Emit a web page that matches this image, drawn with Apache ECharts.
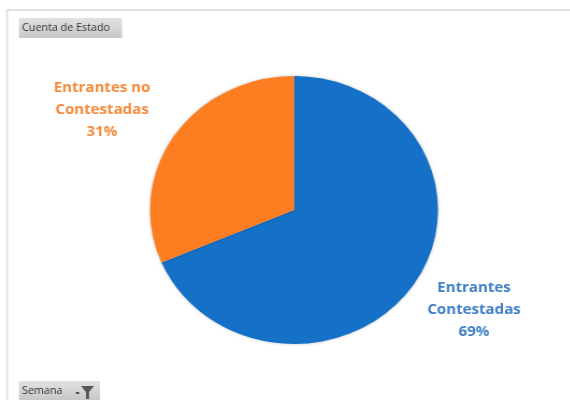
<!DOCTYPE html>
<html><head><meta charset="utf-8">
<style>html,body{margin:0;padding:0;background:#fff;overflow:hidden}
#c{position:absolute;left:0;top:0;width:530.4px;height:400px;transform-origin:0 0;transform:scaleX(1.0746)}</style>
<script src="https://cdn.jsdelivr.net/npm/echarts@6/dist/echarts.min.js"></script>
</head><body><div id="c"></div>
<script>
const categories = ['Entrantes Contestadas', 'Entrantes no Contestadas'];
const values = [68.6, 31.4];
const colors = ['#1570c8', '#fd7e21'];
const labelColors = ['#3f7fc4', '#f58a3c'];
const fieldTitle = 'Cuenta de Estado';
const filterTitle = 'Semana';
const sx = 1.0746;
const X = v => v / sx;
const chart = echarts.init(document.getElementById('c'), null, {renderer: 'canvas'});
const btnFill = new echarts.graphic.LinearGradient(0,0,0,1,[{offset:0,color:'#e2e2e2'},{offset:1,color:'#c8c8c8'}]);
chart.setOption({
  animation: false,
  graphic: [
    {type:'rect', silent:true, shape:{x:X(7),y:10,width:X(580),height:420}, style:{fill:'#fff',stroke:'#e2e2e2',lineWidth:2}},
    {type:'rect', silent:true, shape:{x:X(19),y:18,width:X(103),height:20}, style:{fill:btnFill}},
    {type:'text', silent:true, x:X(22), y:28, style:{text:fieldTitle,font:'10px "Open Sans"',fill:'#333',verticalAlign:'middle'}},
    {type:'rect', silent:true, shape:{x:X(19),y:381,width:X(81),height:19}, style:{fill:btnFill}},
    {type:'text', silent:true, x:X(22), y:391, style:{text:filterTitle,font:'10px "Open Sans"',fill:'#333',verticalAlign:'middle'}},
    {type:'polygon', silent:true, shape:{points:[[X(81),386],[X(94),386],[X(89),392],[X(89),399],[X(86),399],[X(86),392]]}, style:{fill:'#555'}},
    {type:'rect', silent:true, shape:{x:X(76),y:392,width:X(3),height:2}, style:{fill:'#444'}}
  ],
  series: [{
    type: 'pie',
    radius: [0, 134],
    center: [X(294), 210],
    startAngle: 90,
    clockwise: true,
    silent: true,
    data: categories.map((name, i) => ({
      name, value: values[i],
      itemStyle: {color: colors[i], shadowBlur: 3, shadowColor: 'rgba(0,0,0,0.25)'},
      label: {color: labelColors[i]}
    })),
    label: {
      show: true, position: 'outside', align: 'center',
      fontWeight: 'bold', fontFamily: 'Open Sans', fontSize: 14, lineHeight: 22,
      formatter: p => p.name.replace(/ (?=\S+$)/, '\n') + '\n' + Math.round(p.value) + '%'
    },
    labelLine: {show: false},
    labelLayout: p => p.dataIndex === 0
      ? {x: X(474), y: 310, align: 'center', verticalAlign: 'middle'}
      : {x: X(102), y: 110, align: 'center', verticalAlign: 'middle'}
  }]
});
</script></body></html>
